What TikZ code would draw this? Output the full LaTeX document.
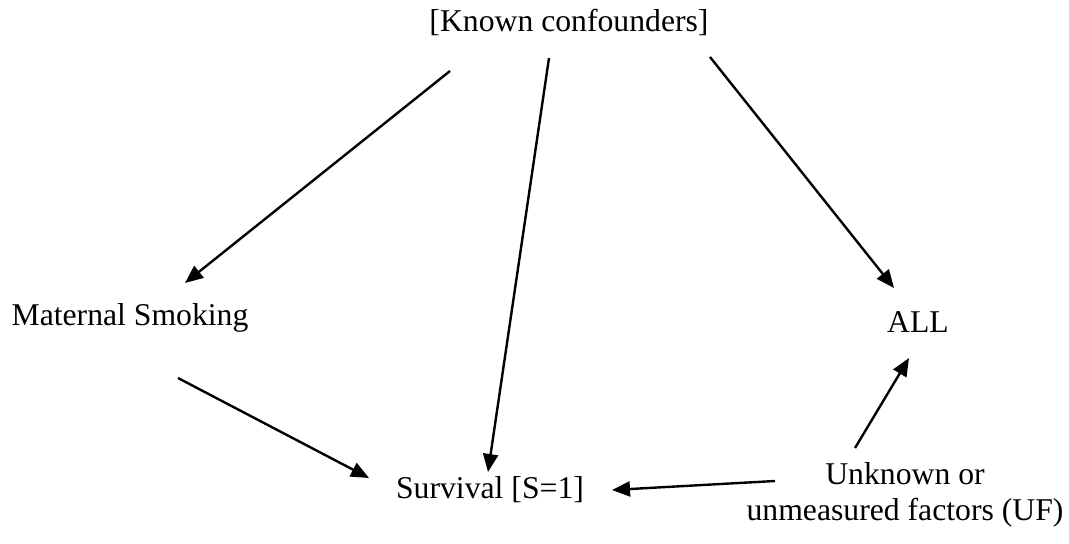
\documentclass[tikz,border=0pt]{standalone}
\usepackage{fontspec}
\setmainfont{Liberation Serif}
\usepackage{tikz}
\usetikzlibrary{arrows.meta, positioning, calc}

\tikzset{
  arr/.style={line width=1.2pt, -{Triangle[length=9pt, width=7.5pt]}},
  lbl/.style={inner sep=0pt, align=center}
}

\begin{document}
\begin{tikzpicture}[x=0.5pt, y=-0.5pt, font=\fontsize{15.85}{18}\selectfont]
        \useasboundingbox (0,0) rectangle (1069,544);
        \node[lbl] (conf) at (569,22) {[Known confounders]}; \node[lbl] (smok) at (130,318) {Maternal Smoking}; \node[lbl] (all) at (918,322) {ALL};
        \node[lbl] (surv) at (490,490) {Survival [S=1]}; \node[lbl] (uf) at (905,495) {Unknown or\\unmeasured factors (UF)};

        \draw [arr] ($(conf)+(-119,49)$) -- ($(smok)+(55,-35)$);
        \draw [arr] ($(conf)+(-20,36)$) -- ($(surv)+(-2,-18)$);
        \draw [arr] ($(conf)+(141,35)$) -- ($(all)+(-24,-34)$);
        \draw [arr] ($(smok)+(48,60)$) -- ($(surv)+(-121,-12)$);
        \draw [arr] ($(uf)+(-50,-47)$) -- ($(all)+(-9,36)$);
        \draw [arr] ($(uf)+(-130,-14)$) -- ($(surv)+(122,0)$);
    \end{tikzpicture}
\end{document}
